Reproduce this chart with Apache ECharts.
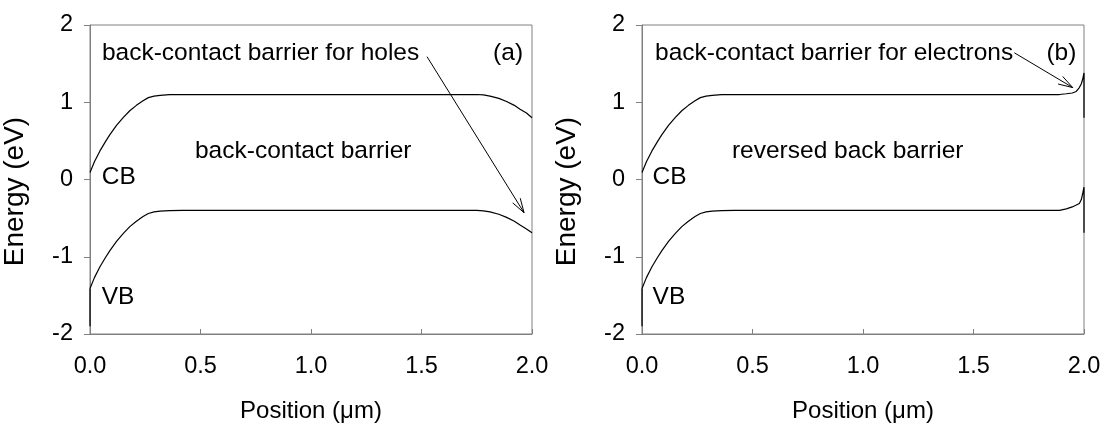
<!DOCTYPE html>
<html>
<head>
<meta charset="utf-8">
<script src="https://cdn.jsdelivr.net/npm/echarts@6/dist/echarts.min.js"></script>
<style>
html,body{margin:0;padding:0;background:#fff;}
#chart{width:1110px;height:425px;}
</style>
</head>
<body>
<div id="chart"></div>
<script>
// ---- data ----
// panel (a): back-contact barrier
var posA = [0, 0.02, 0.045, 0.07, 0.09, 0.12, 0.15, 0.18, 0.21, 0.24, 0.264, 0.29, 0.317, 0.36, 0.42, 0.6, 1.0, 1.5, 1.75, 1.78, 1.81, 1.85, 1.885, 1.92, 1.946, 1.975, 2.0];
var cbA  = [0.09, 0.23, 0.37, 0.49, 0.58, 0.70, 0.80, 0.89, 0.96, 1.02, 1.06, 1.08, 1.09, 1.098, 1.10, 1.10, 1.10, 1.10, 1.10, 1.095, 1.08, 1.05, 1.01, 0.96, 0.91, 0.86, 0.80];
var vbA  = [-1.41, -1.27, -1.13, -1.01, -0.92, -0.80, -0.70, -0.61, -0.54, -0.48, -0.44, -0.42, -0.41, -0.402, -0.40, -0.40, -0.40, -0.40, -0.40, -0.405, -0.42, -0.45, -0.49, -0.54, -0.59, -0.64, -0.69];
var vbStartPos = [0, 0];
var vbStartVal = [-1.90, -1.41];

// panel (b): reversed back barrier
var posB = [0, 0.02, 0.045, 0.07, 0.09, 0.12, 0.15, 0.18, 0.21, 0.24, 0.264, 0.29, 0.317, 0.36, 0.42, 0.6, 1.0, 1.5, 1.889, 1.92, 1.947, 1.965, 1.979, 1.988, 1.995, 2.0, 2.0];
var cbB  = [0.09, 0.23, 0.37, 0.49, 0.58, 0.70, 0.80, 0.89, 0.96, 1.02, 1.06, 1.08, 1.09, 1.098, 1.10, 1.10, 1.10, 1.10, 1.10, 1.11, 1.12, 1.14, 1.19, 1.24, 1.31, 1.38, 0.80];
var vbB  = [-1.41, -1.27, -1.13, -1.01, -0.92, -0.80, -0.70, -0.61, -0.54, -0.48, -0.44, -0.42, -0.41, -0.402, -0.40, -0.40, -0.40, -0.40, -0.40, -0.38, -0.355, -0.33, -0.31, -0.26, -0.17, -0.10, -0.69];

// tick labels / axis names
var xTickFmt = 1;       // decimals
var xName = 'Position (\u03bcm)';
var yName = 'Energy (eV)';

// annotations: [x, y, text]
var textsA = [[0.054, 1.64, 'back-contact barrier for holes'], [1.824, 1.64, '(a)'], [0.475, 0.36, 'back-contact barrier'], [0.053, 0.03, 'CB'], [0.053, -1.53, 'VB']];
var textsB = [[0.059, 1.64, 'back-contact barrier for electrons'], [1.83, 1.64, '(b)'], [0.407, 0.36, 'reversed back barrier'], [0.048, 0.03, 'CB'], [0.048, -1.53, 'VB']];
// arrows: [x1, y1, x2, y2]
var arrowA = [[1.525, 1.59, 1.964, -0.43]];
var arrowB = [[1.685, 1.64, 1.949, 1.19]];

// ---- chart ----
var FONT = 'Liberation Sans, Arial, sans-serif';
var AX = '#808080';
function zip(p, v){ return p.map(function(x,i){ return [x, v[i]]; }); }

function xAxis(gi){
  return {
    gridIndex: gi, type: 'value', min: 0, max: 2, interval: 0.5,
    name: xName, nameLocation: 'middle', nameGap: 65,
    nameTextStyle: {fontFamily: FONT, fontSize: 24, color: '#000'},
    axisLine: {show: true, onZero: false, lineStyle: {color: AX, width: 1}},
    axisTick: {show: true, inside: true, length: 5, lineStyle: {color: AX}},
    axisLabel: {margin: 21, fontFamily: FONT, fontSize: 23.5, color: '#000',
      formatter: function(v){ return v.toFixed(xTickFmt); }},
    splitLine: {show: false}
  };
}
function yAxis(gi){
  return {
    gridIndex: gi, type: 'value', min: -2, max: 2, interval: 1,
    name: yName, nameLocation: 'middle', nameGap: 61, nameRotate: 90,
    nameTextStyle: {fontFamily: FONT, fontSize: 28, color: '#000', padding: [0, 24, 0, 0]},
    axisLine: {show: true, onZero: false, lineStyle: {color: AX, width: 1}},
    axisTick: {show: true, inside: false, length: 6, lineStyle: {color: AX}},
    axisLabel: {margin: 17, fontFamily: FONT, fontSize: 23.5, color: '#000'},
    splitLine: {show: false}
  };
}
function lineSeries(gi, data){
  return {type: 'line', xAxisIndex: gi, yAxisIndex: gi, data: data, showSymbol: false,
    symbol: 'none', lineStyle: {color: '#000', width: 1.2}, silent: true, animation: false, clip: false};
}
function textSeries(gi, items){
  return {type: 'custom', xAxisIndex: gi, yAxisIndex: gi, data: items, silent: true, animation: false,
    encode: {x: 0, y: 1},
    renderItem: function(params, api){
      var d = items[params.dataIndex];
      var p = api.coord([d[0], d[1]]);
      return {type: 'text', x: p[0], y: p[1],
        style: {text: d[2], fill: '#000', fontFamily: FONT, fontSize: 24.5, align: 'left', verticalAlign: 'middle'}};
    }};
}
function arrowSeries(gi, items){
  return {type: 'custom', xAxisIndex: gi, yAxisIndex: gi, data: items, silent: true, animation: false,
    encode: {x: [0, 2], y: [1, 3]},
    renderItem: function(params, api){
      var d = items[params.dataIndex];
      var a = api.coord([d[0], d[1]]), b = api.coord([d[2], d[3]]);
      var ang = Math.atan2(b[1]-a[1], b[0]-a[0]);
      var L = 15, w = 0.3;
      var h1 = [b[0] - L*Math.cos(ang - w), b[1] - L*Math.sin(ang - w)];
      var h2 = [b[0] - L*Math.cos(ang + w), b[1] - L*Math.sin(ang + w)];
      var st = {stroke: '#000', lineWidth: 1, fill: null};
      return {type: 'group', children: [
        {type: 'polyline', shape: {points: [a, b]}, style: st},
        {type: 'polyline', shape: {points: [h1, b, h2]}, style: st}
      ]};
    }};
}

var chart = echarts.init(document.getElementById('chart'), null, {renderer: 'canvas'});
var gridBase = {top: 25, width: 442, height: 309, show: true, borderColor: AX, borderWidth: 1,
  backgroundColor: 'transparent', containLabel: false, outerBoundsMode: 'none'};
chart.setOption({
  animation: false,
  backgroundColor: '#fff',
  grid: [
    Object.assign({left: 90}, gridBase),
    Object.assign({left: 642}, gridBase)
  ],
  xAxis: [xAxis(0), xAxis(1)],
  yAxis: [yAxis(0), yAxis(1)],
  series: [
    lineSeries(0, zip(vbStartPos, vbStartVal)),
    lineSeries(0, zip(posA, cbA)),
    lineSeries(0, zip(posA, vbA)),
    lineSeries(1, zip(vbStartPos, vbStartVal)),
    lineSeries(1, zip(posB, cbB)),
    lineSeries(1, zip(posB, vbB)),
    textSeries(0, textsA),
    textSeries(1, textsB),
    arrowSeries(0, arrowA),
    arrowSeries(1, arrowB)
  ]
});
</script>
</body>
</html>
